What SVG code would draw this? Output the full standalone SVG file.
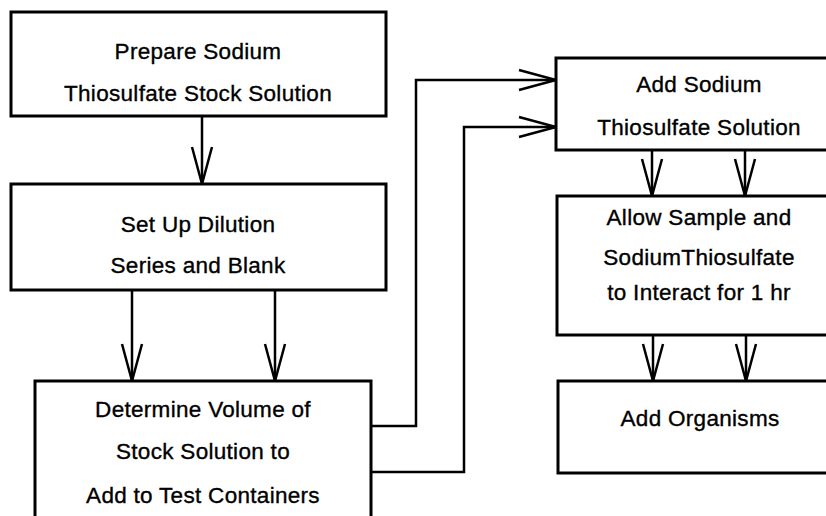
<svg xmlns="http://www.w3.org/2000/svg" width="826" height="516" viewBox="0 0 826 516">
<style>
.box{fill:#fff;stroke:#000;stroke-width:3}
.t{font-family:"Liberation Sans",Arial,sans-serif;font-size:22.5px;fill:#000;stroke:#000;stroke-width:0.35;text-anchor:middle;letter-spacing:0.3px}
.c{fill:none;stroke:#000;stroke-width:2.5;marker-end:url(#ah)}
</style>
<defs>
<marker id="ah" markerUnits="userSpaceOnUse" markerWidth="44" markerHeight="30" refX="0" refY="0" viewBox="-40 -15 44 30" orient="auto" overflow="visible">
<path d="M-37,-10 L0,0 L-37,10" fill="none" stroke="#000" stroke-width="2.5"/>
</marker>
</defs>
<rect width="826" height="516" fill="#fff"/>
<g id="connectors">
<path class="c" d="M202,116 V184"/>
<path class="c" d="M132,290 V381"/>
<path class="c" d="M275,290 V381"/>
<path class="c" d="M371,426 H416 V80 H556"/>
<path class="c" d="M371,472 H464 V127 H556"/>
<path class="c" d="M652,150 V196"/>
<path class="c" d="M745,150 V196"/>
<path class="c" d="M653,335 V381"/>
<path class="c" d="M746,335 V381"/>
</g>
<g id="prepare">
<rect class="box" x="11" y="12" width="375" height="104"/>
<text class="t" x="198" y="59">Prepare Sodium</text>
<text class="t" x="198" y="101">Thiosulfate Stock Solution</text>
</g>
<g id="dilution">
<rect class="box" x="11" y="184" width="375" height="106"/>
<text class="t" x="198" y="232">Set Up Dilution</text>
<text class="t" x="198" y="273">Series and Blank</text>
</g>
<g id="determine">
<rect class="box" x="35" y="381" width="336" height="160"/>
<text class="t" x="203" y="417">Determine Volume of</text>
<text class="t" x="203" y="459">Stock Solution to</text>
<text class="t" x="203" y="503">Add to Test Containers</text>
</g>
<g id="addsodium">
<rect class="box" x="556" y="58" width="290" height="92"/>
<text class="t" x="699" y="92">Add Sodium</text>
<text class="t" x="699" y="135">Thiosulfate Solution</text>
</g>
<g id="allow">
<rect class="box" x="557" y="196" width="290" height="139"/>
<text class="t" x="699" y="225">Allow Sample and</text>
<text class="t" x="699" y="265">SodiumThiosulfate</text>
<text class="t" x="699" y="300">to Interact for 1 hr</text>
</g>
<g id="organisms">
<rect class="box" x="558" y="381" width="290" height="92"/>
<text class="t" x="700" y="426">Add Organisms</text>
</g>
</svg>
